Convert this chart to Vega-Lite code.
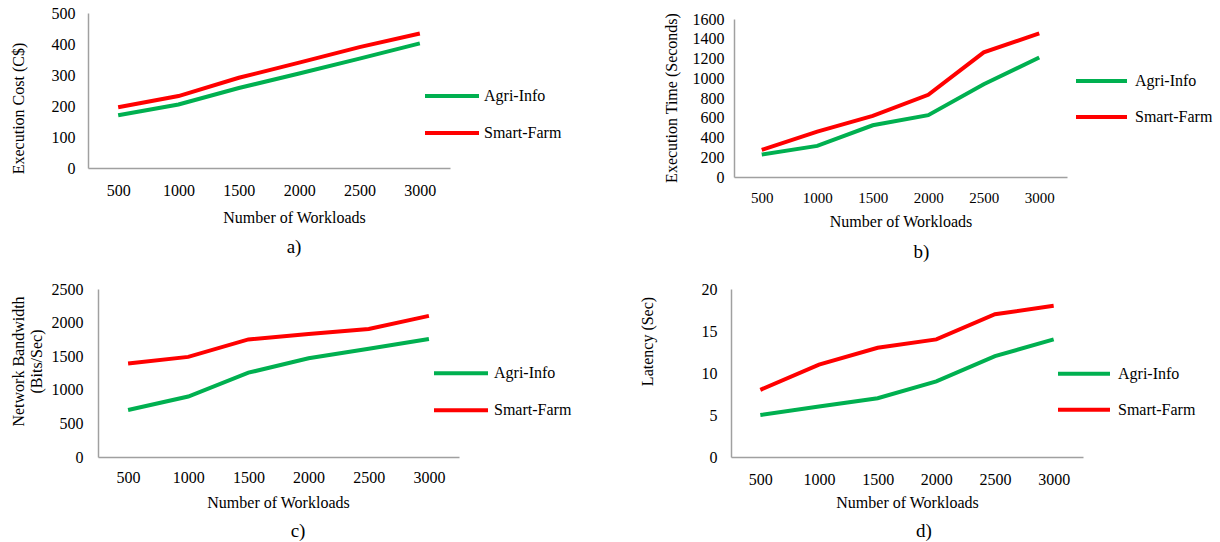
{
  "$schema": "https://vega.github.io/schema/vega-lite/v6.json",
  "background": "white",
  "padding": {"left": 10, "top": 5, "right": 5, "bottom": 5},
  "config": {
    "view": {"stroke": null},
    "font": "Liberation Serif",
    "axis": {"labelFont": "Liberation Serif", "titleFont": "Liberation Serif", "labelColor": "#000000", "titleColor": "#000000", "titleFontWeight": "normal", "domainColor": "#A0A0A0", "domainWidth": 1.5, "ticks": false, "grid": false, "labelFontSize": 16, "titleFontSize": 16},
    "legend": {"labelFont": "Liberation Serif", "labelColor": "#000000", "padding": 0, "labelFontSize": 16},
    "title": {"font": "Liberation Serif", "fontWeight": "normal", "color": "#000000", "fontSize": 19},
    "line": {"strokeWidth": 4}
  },
  "datasets": {
    "perf": [
      {"workload": 500, "system": "Agri-Info", "cost": 170, "time": 227, "bandwidth": 700, "latency": 5},
      {"workload": 1000, "system": "Agri-Info", "cost": 205, "time": 315, "bandwidth": 900, "latency": 6},
      {"workload": 1500, "system": "Agri-Info", "cost": 258, "time": 524, "bandwidth": 1255, "latency": 7},
      {"workload": 2000, "system": "Agri-Info", "cost": 305, "time": 626, "bandwidth": 1470, "latency": 9},
      {"workload": 2500, "system": "Agri-Info", "cost": 353, "time": 940, "bandwidth": 1610, "latency": 12},
      {"workload": 3000, "system": "Agri-Info", "cost": 402, "time": 1210, "bandwidth": 1755, "latency": 14},
      {"workload": 500, "system": "Smart-Farm", "cost": 196, "time": 274, "bandwidth": 1392, "latency": 8},
      {"workload": 1000, "system": "Smart-Farm", "cost": 232, "time": 460, "bandwidth": 1490, "latency": 11},
      {"workload": 1500, "system": "Smart-Farm", "cost": 291, "time": 619, "bandwidth": 1750, "latency": 13},
      {"workload": 2000, "system": "Smart-Farm", "cost": 340, "time": 832, "bandwidth": 1830, "latency": 14},
      {"workload": 2500, "system": "Smart-Farm", "cost": 390, "time": 1262, "bandwidth": 1905, "latency": 17},
      {"workload": 3000, "system": "Smart-Farm", "cost": 434, "time": 1454, "bandwidth": 2100, "latency": 18}
    ]
  },
  "data": {"name": "perf"},
  "bounds": "flush",
  "spacing": 276,
  "resolve": {"scale": {"color": "independent"}, "legend": {"color": "independent"}},
  "vconcat": [
    {
      "bounds": "flush",
      "spacing": 284,
      "resolve": {"scale": {"color": "independent"}, "legend": {"color": "independent"}},
      "hconcat": [
        {
          "width": 362, "height": 155,
          "title": {"text": "a)", "orient": "bottom", "dx": 25, "offset": 13},
          "mark": {"type": "line", "strokeWidth": 4},
          "encoding": {
            "x": {"field": "workload", "type": "ordinal", "scale": {"type": "point", "padding": 0.5},
              "axis": {"title": "Number of Workloads", "labelAngle": 0, "labelPadding": 14, "titlePadding": 11, "titleX": 206}},
            "y": {"field": "cost", "type": "quantitative", "scale": {"domain": [0, 500]},
              "axis": {"title": "Execution Cost (C$)", "format": "d", "values": [0, 100, 200, 300, 400, 500], "labelPadding": 13, "titlePadding": 25, "titleY": 95}},
            "color": {"field": "system", "type": "nominal", "scale": {"domain": ["Agri-Info", "Smart-Farm"], "range": ["#00B050", "#FF0000"]},
              "legend": {"title": null, "orient": "none", "legendX": 335, "legendY": 54, "symbolType": "stroke", "symbolStrokeWidth": 4, "symbolSize": 2916, "labelOffset": 3, "rowPadding": -20}}
          }
        },
        {
          "width": 333, "height": 164,
          "title": {"text": "b)", "orient": "bottom", "dx": 21, "offset": 14},
          "mark": {"type": "line", "strokeWidth": 4},
          "encoding": {
            "x": {"field": "workload", "type": "ordinal", "scale": {"type": "point", "padding": 0.5},
              "axis": {"title": "Number of Workloads", "labelAngle": 0, "labelFontSize": 15, "labelPadding": 13, "titlePadding": 8}},
            "y": {"field": "time", "type": "quantitative", "scale": {"domain": [0, 1600], "range": [164, 6]},
              "axis": {"title": "Execution Time (Seconds)", "format": "d", "values": [0, 200, 400, 600, 800, 1000, 1200, 1400, 1600], "labelPadding": 10, "titlePadding": 13, "titleY": 84.5}},
            "color": {"field": "system", "type": "nominal", "scale": {"domain": ["Agri-Info", "Smart-Farm"], "range": ["#00B050", "#FF0000"]},
              "legend": {"title": null, "orient": "none", "legendX": 340, "legendY": 40.5, "symbolType": "stroke", "symbolStrokeWidth": 4, "symbolSize": 2601, "labelOffset": 6, "rowPadding": -18}}
          }
        }
      ]
    },
    {
      "bounds": "flush",
      "spacing": 272,
      "resolve": {"scale": {"color": "independent"}, "legend": {"color": "independent"}},
      "hconcat": [
        {
          "width": 371, "height": 168,
          "title": {"text": "c)", "orient": "bottom", "dx": 24.5, "offset": 12},
          "mark": {"type": "line", "strokeWidth": 4},
          "encoding": {
            "x": {"field": "workload", "type": "ordinal", "scale": {"type": "point", "padding": 0.5, "range": [10, 371]},
              "axis": {"title": "Number of Workloads", "labelAngle": 0, "labelPadding": 12, "titlePadding": 9, "titleX": 190}},
            "y": {"field": "bandwidth", "type": "quantitative", "scale": {"domain": [0, 2500]},
              "axis": {"title": ["Network Bandwidth", "(Bits/Sec)"], "format": "d", "offset": -10, "values": [0, 500, 1000, 1500, 2000, 2500], "labelPadding": 15, "titlePadding": 7, "titleY": 72}},
            "color": {"field": "system", "type": "nominal", "scale": {"domain": ["Agri-Info", "Smart-Farm"], "range": ["#00B050", "#FF0000"]},
              "legend": {"title": null, "orient": "none", "legendX": 344, "legendY": 55.3, "symbolType": "stroke", "symbolStrokeWidth": 4, "symbolSize": 2916, "labelOffset": 4, "rowPadding": -20}}
          }
        },
        {
          "width": 352, "height": 168,
          "title": {"text": "d)", "orient": "bottom", "dx": 17, "offset": 12},
          "mark": {"type": "line", "strokeWidth": 4},
          "encoding": {
            "x": {"field": "workload", "type": "ordinal", "scale": {"type": "point", "padding": 0.5},
              "axis": {"title": "Number of Workloads", "labelAngle": 0, "labelPadding": 14, "titlePadding": 7}},
            "y": {"field": "latency", "type": "quantitative", "scale": {"domain": [0, 20]},
              "axis": {"title": "Latency (Sec)", "format": "d", "values": [0, 5, 10, 15, 20], "labelPadding": 14, "titlePadding": 46, "titleY": 52}},
            "color": {"field": "system", "type": "nominal", "scale": {"domain": ["Agri-Info", "Smart-Farm"], "range": ["#00B050", "#FF0000"]},
              "legend": {"title": null, "orient": "none", "legendX": 325, "legendY": 56.7, "symbolType": "stroke", "symbolStrokeWidth": 4, "symbolSize": 2704, "labelOffset": 6, "rowPadding": -18}}
          }
        }
      ]
    }
  ]
}
